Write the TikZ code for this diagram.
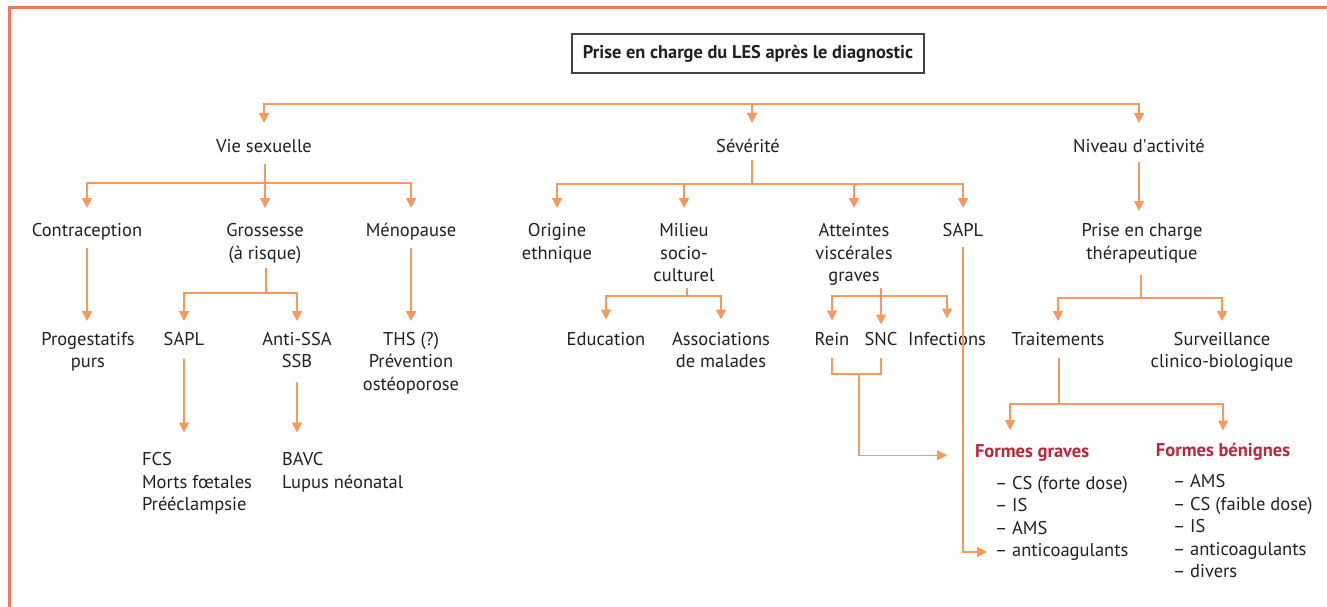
\documentclass[tikz,border=0pt]{standalone}
\usepackage{fontspec}
\setmainfont{PT Sans}
\usetikzlibrary{arrows.meta,calc}
\definecolor{frameC}{RGB}{242,120,92}
\definecolor{lineC}{RGB}{247,152,92}
\definecolor{redC}{RGB}{190,38,58}
\definecolor{txtC}{RGB}{35,31,32}
\newcommand\mystrut{\rule[-6pt]{0pt}{22.5pt}}
\begin{document}
\begin{tikzpicture}[x=1pt,y=-1pt,
  every node/.style={inner sep=0pt,outer sep=0pt,text=txtC,
    font=\fontsize{18.5}{22.5}\selectfont,
    execute at begin node={\mystrut},execute at end node={\mystrut}},
  lbl/.style={anchor=north,align=center},
  lbll/.style={anchor=north west,align=left},
  head/.style={anchor=north,font=\fontsize{18.5}{22.5}\selectfont\bfseries,text=redC},
  line/.style={draw=lineC,line width=1.5pt},
  arr/.style={line,-{Triangle[length=10pt,width=10pt]}},
  frame/.style={draw=frameC,line width=3pt},
  titlebox/.style={draw=txtC!85,line width=1.2pt,minimum width=352pt,minimum height=39pt,
    font=\fontsize{18.4}{22.5}\selectfont\bfseries}]
\useasboundingbox (0,0) rectangle (1327,607);
\draw[frame] (9.5,610) -- (9.5,8) -- (1330,8);

\node[titlebox] (title) at (748,53.5) {Prise en charge du LES après le diagnostic};

% level 1
\node[lbl] (vs) at (264,136) {Vie sexuelle};
\node[lbl] (sev) at (748,136) {Sévérité};
\node[lbl] (na) at (1139,136) {Niveau d\textquotesingle activité};
% level 2
\node[lbl] (contra) at (87,220) {Contraception};
\node[lbl] (gr) at (265,220) {\mystrut Grossesse\\(à risque)};
\node[lbl] (meno) at (411,220) {Ménopause};
\node[lbl] (orig) at (557,220) {\mystrut Origine\\ethnique};
\node[lbl] (mil) at (684,220) {\mystrut Milieu\\socio-\\culturel};
\node[lbl] (att) at (854,220) {\mystrut Atteintes\\viscérales\\graves};
\node[lbl] (saplb) at (963,220) {SAPL};
\node[lbl] (pect) at (1142,220) {\mystrut Prise en charge\\thérapeutique};
% level 3
\node[lbl] (prog) at (88,328.5) {\mystrut Progestatifs\\purs};
\node[lbl] (sapla) at (184,328.5) {SAPL};
\node[lbl] (anti) at (297,328.5) {\mystrut Anti-SSA\\SSB};
\node[lbl] (ths) at (411,328.5) {\mystrut THS (?)\\Prévention\\ostéoporose};
\node[lbl] (edu) at (606,328.5) {Education};
\node[lbl] (assoc) at (721,328.5) {\mystrut Associations\\de malades};
\node[lbl] (rein) at (832,328.5) {Rein};
\node[lbl] (snc) at (881,328.5) {SNC};
\node[lbl] (inf) at (947,328.5) {Infections};
\node[lbl] (trait) at (1058,328.5) {Traitements};
\node[lbl] (surv) at (1222,328.5) {\mystrut Surveillance\\clinico-biologique};
% level 4
\node[lbll] (fcs) at (142,449) {\mystrut FCS\\Morts fœtales\\Prééclampsie};
\node[lbll] (bavc) at (282,449) {\mystrut BAVC\\Lupus néonatal};
\node[head,anchor=north west] (fg) at (975,441) {Formes graves};
\node[head] (fb) at (1223,439.5) {Formes bénignes};
\node[lbll] (fgl) at (995,472.5) {\mystrut – CS (forte dose)\\– IS\\– AMS\\– anticoagulants};
\node[lbll] (fbl) at (1173,471) {\mystrut – AMS\\– CS (faible dose)\\– IS\\– anticoagulants\\– divers};

% junctions
\coordinate (jtop) at (752,104);
\coordinate (jvs) at (265,183);
\coordinate (jsev) at (752,184);
\coordinate (jgr) at (266,293);
\coordinate (jmil) at (687,296);
\coordinate (jatt) at (881,296);
\coordinate (jpect) at (1141,298);
\coordinate (jtr) at (1059,404);
\coordinate (jrs) at (859,374);
\coordinate (fgac) at ([yshift=-79.5pt]fgl.north west);

% top
\draw[arr,shorten >=13pt] (jtop) -| (vs.north);
\draw[arr,shorten >=13pt] (jtop) -- (jtop |- sev.north);
\draw[arr,shorten >=13pt] (jtop) -| (na.north);
% vie sexuelle
\draw[line,shorten <=5pt] (jvs |- vs.south) -- (jvs);
\draw[arr,shorten >=12pt] (jvs) -| (contra.north);
\draw[arr,shorten >=12pt] (jvs) -| (gr.north);
\draw[arr,shorten >=12pt] (jvs) -| (meno.north);
\draw[arr,shorten <=5pt,shorten >=7.5pt] (contra.south) -- (contra.south |- prog.north);
\draw[arr,shorten <=5pt,shorten >=7.5pt] (meno.south) -- (meno.south |- ths.north);
\draw[line,shorten <=3pt] (jgr |- gr.south) -- (jgr);
\draw[arr,shorten >=7.5pt] (jgr) -| (sapla.north);
\draw[arr,shorten >=7.5pt] (jgr) -| (anti.north);
\draw[arr,shorten <=8pt,shorten >=16.5pt] (sapla.south) -- (sapla.south |- fcs.north);
\draw[arr,shorten <=8pt,shorten >=16.5pt] (anti.south) -- (anti.south |- bavc.north);
% severite
\draw[line,shorten <=1pt] (jsev |- sev.south) -- (jsev);
\draw[arr,shorten >=12pt] (jsev) -| (orig.north);
\draw[arr,shorten >=12pt] (jsev) -| (mil.north);
\draw[arr,shorten >=12pt] (jsev) -| (att.north);
\draw[arr,shorten >=12pt] (jsev) -| (saplb.north);
\draw[line] (jmil |- mil.south) -- (jmil);
\draw[arr,shorten >=9pt] (jmil) -| (edu.north);
\draw[arr,shorten >=9pt] (jmil) -| (assoc.north);
\draw[line] (jatt |- att.south) -- (jatt);
\draw[arr,shorten >=8pt] (jatt) -| (rein.north);
\draw[arr,shorten >=4pt] (jatt) -- (jatt |- snc.north);
\draw[arr,shorten >=10pt] (jatt) -| (inf.north);
\draw[line] ([yshift=-7pt]rein.south) |- (jrs) -| ([yshift=-7pt]snc.south);
\draw[arr,shorten >=28pt] (jrs) |- ([yshift=-3pt]fg.west);
\draw[arr,shorten <=4pt,shorten >=8pt] (saplb.south) |- (fgac);
% niveau d'activite
\draw[arr,shorten <=3pt,shorten >=9pt] (na.south) -- (na.south |- pect.north);
\draw[line,shorten <=10pt] (jpect |- pect.south) -- (jpect);
\draw[arr,shorten >=7.5pt] (jpect) -| (trait.north);
\draw[arr,shorten >=7.5pt] (jpect) -| (surv.north);
\draw[line,shorten <=7pt] (jtr |- trait.south) -- (jtr);
\draw[arr,shorten >=11pt] (jtr) -| ([xshift=35pt]fg.north west);
\draw[arr,shorten >=9pt] (jtr) -| (fb.north);
\end{tikzpicture}
\end{document}
